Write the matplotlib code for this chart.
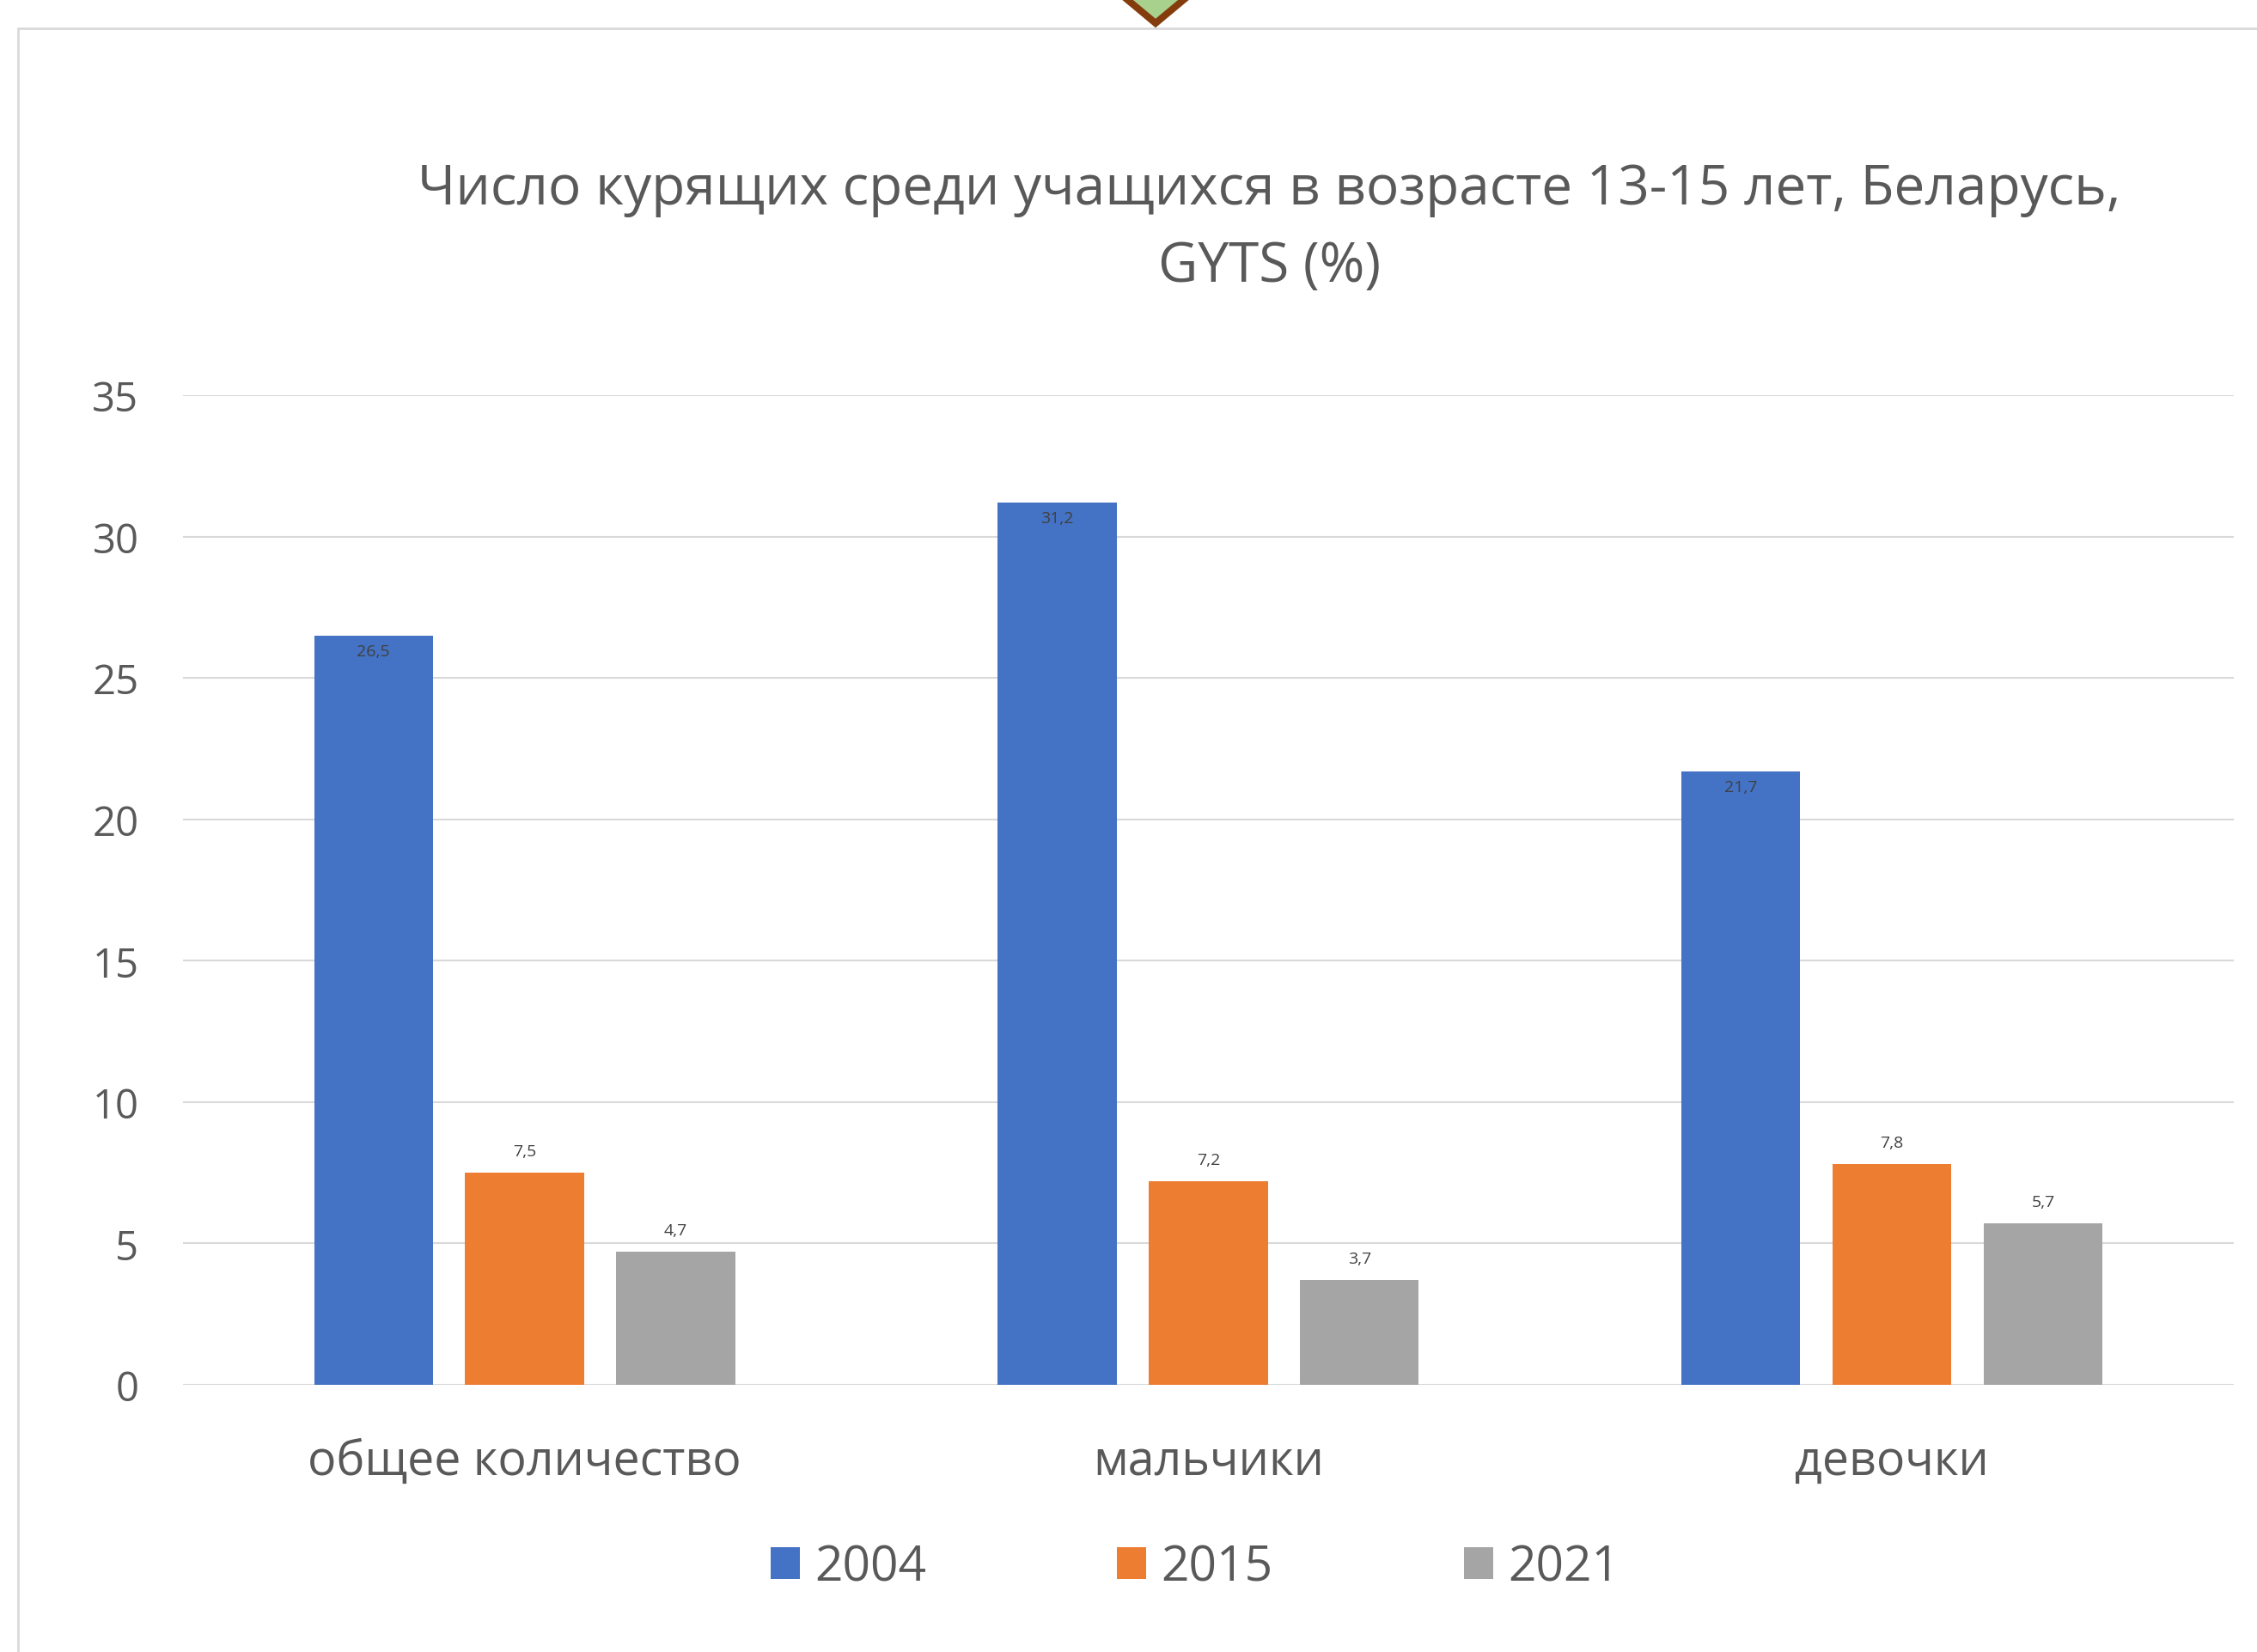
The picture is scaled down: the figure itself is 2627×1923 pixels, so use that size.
import matplotlib
matplotlib.use("Agg")
import matplotlib.pyplot as plt
from matplotlib.patches import Rectangle, Polygon
import numpy as np

plt.rcParams['font.family'] = ['Open Sans', 'DejaVu Sans']

categories = ['общее количество', 'мальчики', 'девочки']
years = ['2004', '2015', '2021']
values_2004 = [26.5, 31.2, 21.7]
values_2015 = [7.5, 7.2, 7.8]
values_2021 = [4.7, 3.7, 5.7]
colors = ['#4472C4', '#ED7D31', '#A5A5A5']
title = 'Число курящих среди учащихся в возрасте 13-15 лет, Беларусь,\nGYTS (%)'

W, H = 2627, 1924
fig = plt.figure(figsize=(W / 100, H / 100), dpi=100)
ax = fig.add_axes([0.081, 0.1616, 0.9087, 0.5988])

x = np.arange(len(categories))
width = 0.174
step = 0.221
series = [values_2004, values_2015, values_2021]

for i, (vals, col, yr) in enumerate(zip(series, colors, years)):
    bars = ax.bar(x + (i - 1) * step, vals, width, color=col, label=yr, zorder=3)
    for b, v in zip(bars, vals):
        lbl = str(v).replace('.', ',')
        # 2004 labels sit inside the bar top, the others above it
        dy = -13 if i == 0 else 18
        ax.annotate(lbl, (b.get_x() + b.get_width() / 2, v), xytext=(0, dy),
                    textcoords='offset points', ha='center', va='center',
                    fontsize=14, color='#404040', zorder=4)

ax.set_xlim(-0.5, 2.5)
ax.set_ylim(0, 35)
ax.set_yticks(range(0, 36, 5))
ax.yaxis.grid(True, color='#D9D9D9', linewidth=1.5, zorder=0)
ax.set_axisbelow(True)
for s in ax.spines.values():
    s.set_visible(False)
ax.tick_params(axis='y', length=0, pad=37, labelsize=34, labelcolor='#595959')
ax.set_xticks(x)
ax.set_xticklabels(categories)
ax.tick_params(axis='x', length=0, pad=44, labelsize=40, labelcolor='#595959')

fig.text(0.5625, 1 - 266 / H, title, ha='center', va='center', fontsize=46,
         color='#595959', linespacing=1.55)

leg = fig.legend(loc='center', bbox_to_anchor=(0.5295, 1 - 1826 / H), ncol=3,
                 frameon=False, fontsize=41, labelcolor='#595959',
                 handlelength=0.6, handleheight=0.6, handletextpad=0.3,
                 columnspacing=3.9)

# chart border
fig.add_artist(Rectangle((21 / W, -0.1), 1.2, 1.1 - 34 / H, transform=fig.transFigure,
                         fill=False, edgecolor='#D9D9D9', linewidth=2))

# decorative diamond at top
cx, tip = 1345, 28
hw, hh = 66, 55
pts = [(cx, tip), (cx + hw, tip - hh), (cx, tip - 2 * hh), (cx - hw, tip - hh)]
pts = [(px / W, 1 - py / H) for px, py in pts]
fig.add_artist(Polygon(pts, closed=True, transform=fig.transFigure,
                       facecolor='#A9D18E', edgecolor='#843C0C', linewidth=5.8))

fig.savefig('out.png', dpi=100, facecolor='white')
